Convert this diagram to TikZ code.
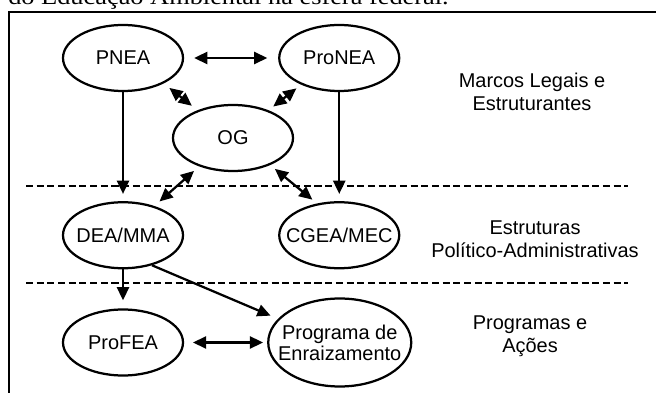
\documentclass[tikz,border=0pt]{standalone}
\usepackage{fontspec}
\setmainfont{Liberation Sans}
\newfontfamily\titlefont[FakeStretch=1.15]{Liberation Serif}
\usepackage{tikz}
\usetikzlibrary{arrows.meta, positioning, shapes.geometric}

\begin{document}
\begin{tikzpicture}[font=\fontsize{14.2}{16.4}\selectfont,oval/.style={ellipse, draw, line width=1.6pt, minimum width=3cm, minimum height=1.65cm, inner xsep=-0.3cm, inner ysep=0pt},arrow/.style={-{Triangle[length=3.3mm,width=3mm]}, line width=1.6pt},dblarrow/.style={{Triangle[length=3.3mm,width=3mm]}-{Triangle[length=3.3mm,width=3mm]}, line width=1.6pt},tier/.style={align=center},divider/.style={line width=1.6pt, dash pattern=on 5pt off 2.6pt},frame/.style={line width=1.7pt}]
\useasboundingbox (0,0) rectangle (16.4,-9.825);
\node[anchor=base west, inner sep=0pt, font=\titlefont\fontsize{16.3}{18}\selectfont] (title) at (0.2,-0.125) {do Educação Ambiental na esfera federal.};
\draw[frame] (16.6,-0.3) -- (0.225,-0.3) -- (0.225,-10);
\node[oval] (pnea) at (3.075,-1.45) {PNEA};
\node[oval, right=2.35cm of pnea] (pronea) {ProNEA};
\node[oval] (og) at (5.825,-3.45) {OG};
\node[oval, below=2.725cm of pnea] (dea) {DEA/MMA};
\node[oval, below=2.725cm of pronea] (cgea) {CGEA/MEC};
\node[oval, below=0.975cm of dea] (profea) {ProFEA};
\node[oval, minimum width=3.575cm, minimum height=2.2cm, right=2.075cm of profea, align=center, font=\fontsize{14.2}{15}\selectfont] (prog) {Programa de\\Enraizamento};
\node[tier] (marcos) at (13.3,-2.3) {Marcos Legais e\\Estruturantes};
\node[tier] (estruturas) at (13.375,-5.975) {Estruturas\\Político-Administrativas};
\node[tier] (programas) at (13.25,-8.4) {Programas e\\Ações};
\draw[divider] (0.65,-4.65) -- (15.7,-4.65);
\draw[divider] (0.65,-7.075) -- (15.7,-7.075);
\draw[dblarrow, shorten <=0.25cm, shorten >=0.27cm] (pnea) -- (pronea);
\draw[dblarrow, shorten <=0.18cm, shorten >=0.18cm] (pnea.-32) -- (og.142);
\draw[dblarrow, shorten <=0.15cm, shorten >=0.15cm] (pronea.215) -- (og.38);
\draw[dblarrow, shorten <=0.17cm, shorten >=0.17cm] (og.220) -- (dea.43);
\draw[dblarrow, shorten <=0.15cm, shorten >=0.15cm] (og.-36) -- (cgea.125);
\draw[arrow, shorten >=0.18cm] (pnea) -- (dea);
\draw[arrow, shorten >=0.18cm] (pronea) -- (cgea);
\draw[arrow, shorten >=0.2cm] (dea) -- (profea);
\draw[arrow, shorten >=0.2cm] (dea.-46) -- (prog.159);
\draw[dblarrow, shorten <=0.22cm, shorten >=0.1cm] (profea) -- (prog);
\end{tikzpicture}
\end{document}
